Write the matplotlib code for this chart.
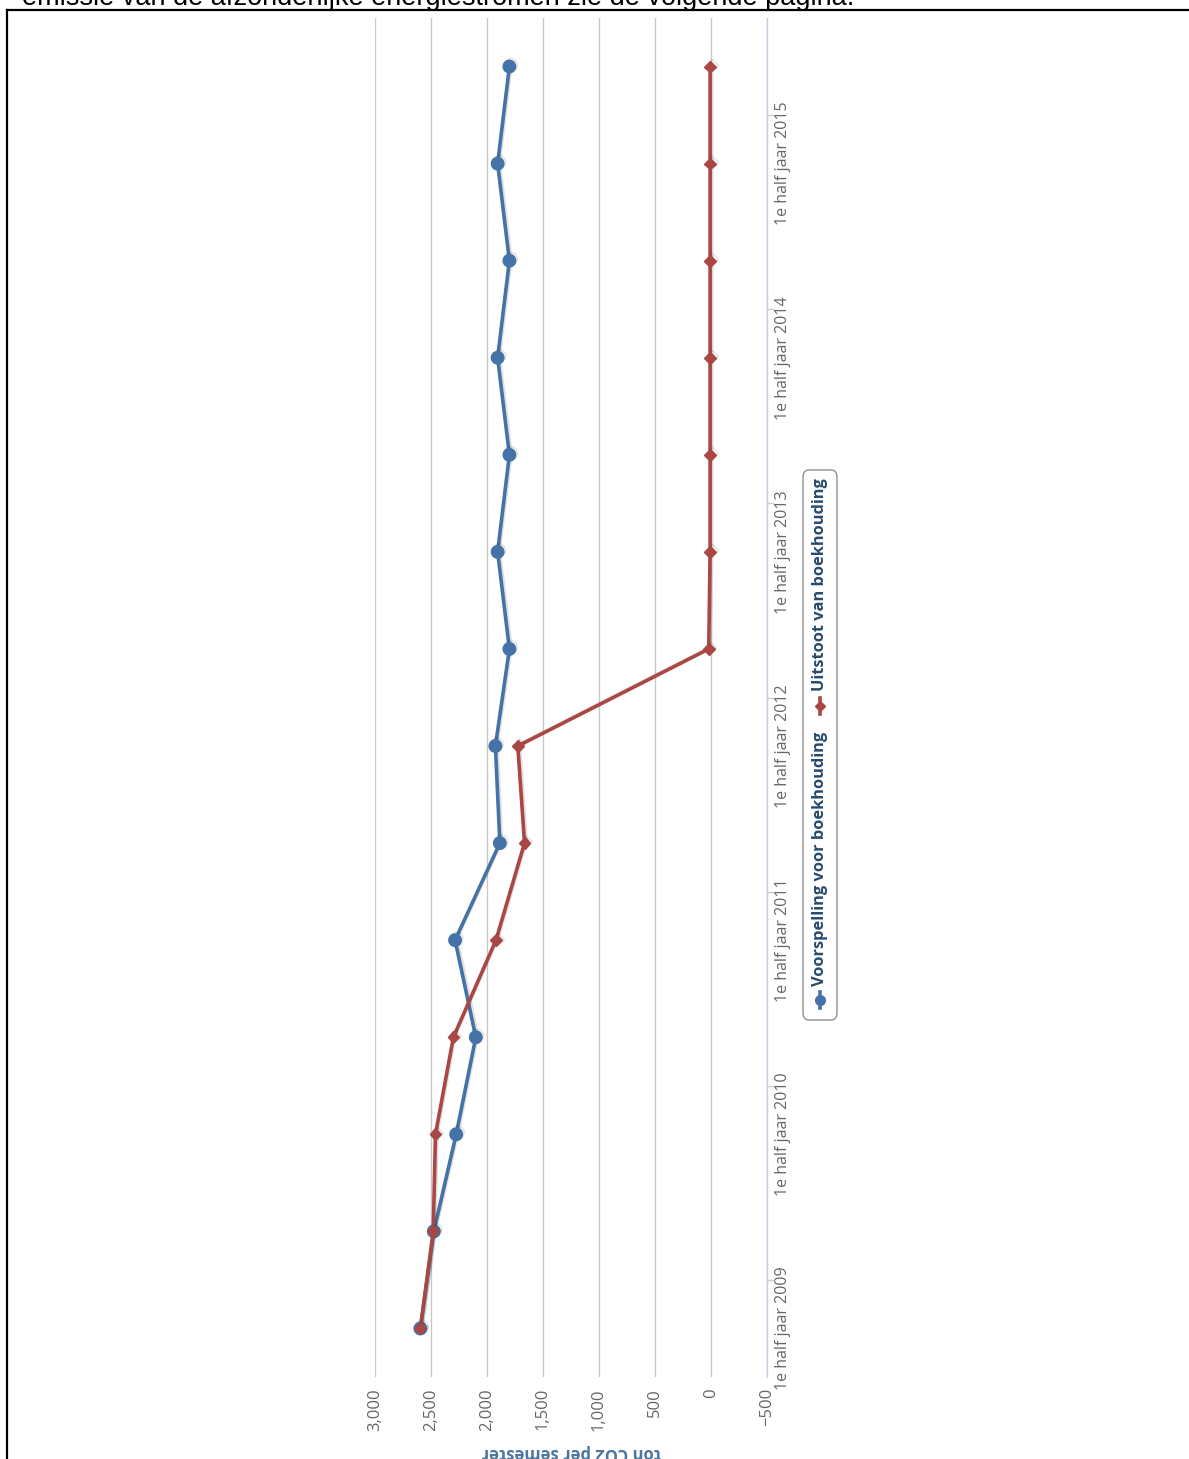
import numpy as np
import matplotlib.pyplot as plt
import matplotlib.patheffects as pe
from matplotlib.lines import Line2D
from matplotlib.patches import FancyBboxPatch

# gegevens
perioden = ['1e half jaar 2009', '2e half jaar 2009', '1e half jaar 2010', '2e half jaar 2010',
            '1e half jaar 2011', '2e half jaar 2011', '1e half jaar 2012', '2e half jaar 2012',
            '1e half jaar 2013', '2e half jaar 2013', '1e half jaar 2014', '2e half jaar 2014',
            '1e half jaar 2015', '2e half jaar 2015']
voorspelling = [2595, 2475, 2275, 2100, 2285, 1885, 1925, 1800, 1905, 1800, 1905, 1800, 1905, 1800]
uitstoot = [2595, 2480, 2460, 2300, 1920, 1665, 1725, 20, 8, 8, 8, 8, 8, 8]
waarde_ticks = [3000, 2500, 2000, 1500, 1000, 500, 0, -500]
waarde_labels = ['3,000', '2,500', '2,000', '1,500', '1,000', '500', '0', '\u2212500']

blauw = '#4572A7'
rood = '#AA4643'
grijs = '#666666'

W, H = 1189, 1459
fig = plt.figure(figsize=(W / 100, H / 100), dpi=100)
plt.rcParams['font.family'] = ['Open Sans', 'DejaVu Sans']


def fx(x):
    return x / W


def fy(y):
    return 1 - y / H


# pagina-kader en afgesneden tekst erboven
fig.add_artist(Line2D([fx(7), 1], [fy(10), fy(10)], color='black', lw=1.6))
fig.add_artist(Line2D([fx(7), fx(7)], [fy(10), 0], color='black', lw=1.6))
fig.text(fx(22), fy(5), 'emissie van de afzonderlijke energiestromen zie de volgende pagina.',
         family='Liberation Sans', fontsize=19.5, va='baseline', ha='left', color='black')

# grafiek (gedraaid: waarden horizontaal, perioden verticaal)
ax = fig.add_axes([fx(375), fy(1377), fx(767) - fx(375), (1377 - 18) / H])
idx = np.arange(len(perioden))

schaduw = [pe.SimpleLineShadow(offset=(1.2, 1.2), shadow_color='black', alpha=0.12), pe.Normal()]
ax.plot(voorspelling, idx, color=blauw, lw=2.6, marker='o', ms=9, zorder=3, path_effects=schaduw)
ax.plot(uitstoot, idx, color=rood, lw=2.6, marker='D', ms=6, zorder=4, path_effects=schaduw)

ax.set_xlim(3000, -500)
ax.set_ylim(-0.5, len(perioden) - 0.5)

ax.set_xticks(waarde_ticks)
ax.set_xticklabels(waarde_labels)
ax.tick_params(axis='x', length=0, labelrotation=90, pad=8, labelsize=12, labelcolor=grijs)
ax.grid(axis='x', color='#C8C8C8', lw=1)
ax.set_axisbelow(True)

ax.yaxis.tick_right()
ax.set_yticks(idx[::2])
ax.set_yticklabels(perioden[::2])
ax.set_yticks(idx[:-1:2] + 0.5, minor=True)
ax.tick_params(axis='y', which='major', length=0, labelrotation=90, pad=6, labelsize=11.5, labelcolor=grijs)
ax.tick_params(axis='y', which='minor', length=5, width=1, color='#C0D0E0', direction='out')
for lab in ax.get_yticklabels():
    lab.set_va('center')

for s in ['top', 'bottom', 'left']:
    ax.spines[s].set_visible(False)
ax.spines['right'].set_color('#C0D0E0')
ax.spines['right'].set_linewidth(1)

# as-titel (ondersteboven)
fig.text(fx(571), fy(1453), 'ton CO2 per semester', rotation=180, ha='center', va='center',
         fontsize=12, fontweight='bold', color='#4D759E')

# legenda
fig.add_artist(FancyBboxPatch((fx(803), fy(1020)), fx(837) - fx(803), (1020 - 470) / H,
                              boxstyle='round,pad=0,rounding_size=0.005', fc='white',
                              ec='#909090', lw=1, transform=fig.transFigure))
items = [('Voorspelling voor boekhouding', blauw, 'o', 7, 1000, 986),
         ('Uitstoot van boekhouding', rood, 'D', 5, 706, 691)]
for naam, kleur, mk, ms, ym, yt in items:
    fig.add_artist(Line2D([fx(820), fx(820)], [fy(ym + 8), fy(ym - 8)], color=kleur, lw=2.6))
    fig.add_artist(Line2D([fx(820)], [fy(ym)], color=kleur, marker=mk, ms=ms))
    fig.text(fx(820), fy(yt), naam, rotation=90, rotation_mode='anchor', ha='left', va='center',
             fontsize=11.8, fontweight='bold', color='#274B6D')

fig.savefig('out.png', dpi=100)
